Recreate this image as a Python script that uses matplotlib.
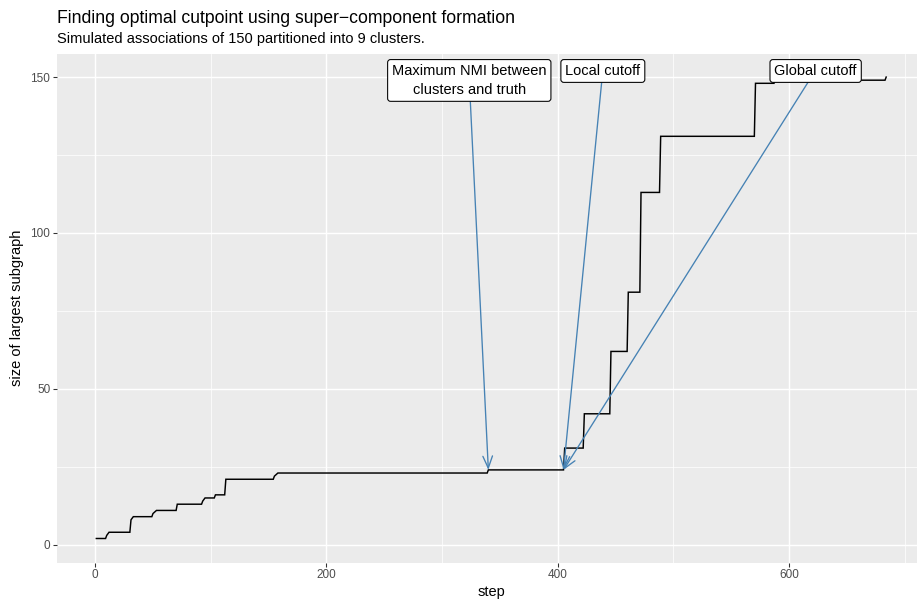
import matplotlib
matplotlib.use("Agg")
import matplotlib.pyplot as plt
from matplotlib.ticker import FixedLocator

plt.rcParams['font.family'] = ['Liberation Sans', 'DejaVu Sans']

# ---- data ----
step = [1, 9, 10, 12, 30, 31, 33, 49, 50, 53, 70, 71, 92, 93, 95, 103, 104,
        112, 113, 154, 155, 158, 339, 340, 405, 406, 422, 423, 445, 446, 460,
        461, 471, 472, 488, 489, 570, 571, 587, 588, 683, 684]
size = [2, 2, 3, 4, 4, 8, 9, 9, 10, 11, 11, 13, 13, 14, 15, 15, 16,
        16, 21, 21, 22, 23, 23, 24, 24, 31, 31, 42, 42, 62, 62,
        81, 81, 113, 113, 131, 131, 148, 148, 149, 149, 150]

label_text = ["Maximum NMI between\nclusters and truth", "Local cutoff", "Global cutoff"]
label_x = [323.5, 439, 623]
label_top = [155.4, 155.4, 155.4]
arrow_start_y = [149, 152.2, 152.2]
arrow_end_x = [340, 405, 405]
arrow_end_y = [24, 24, 24]

x_ticks = [0, 200, 400, 600]
y_ticks = [0, 50, 100, 150]
x_minor = [100, 300, 500, 700]
y_minor = [25, 75, 125]

title = "Finding optimal cutpoint using super\u2212component formation"
subtitle = "Simulated associations of 150 partitioned into 9 clusters."

# ---- figure ----
W, H, DPI = 917, 602, 96
fig = plt.figure(figsize=(W / DPI, H / DPI), dpi=DPI)
left, right, top, bottom = 57, 925.5, 54, 562.5
ax = fig.add_axes([left / W, 1 - bottom / H, (right - left) / W, (bottom - top) / H])

ax.set_facecolor('#EBEBEB')
for s in ax.spines.values():
    s.set_visible(False)

ax.set_xlim(-33, 718)
ax.set_ylim(-5.7, 157.4)

ax.xaxis.set_major_locator(FixedLocator(x_ticks))
ax.yaxis.set_major_locator(FixedLocator(y_ticks))
ax.xaxis.set_minor_locator(FixedLocator(x_minor))
ax.yaxis.set_minor_locator(FixedLocator(y_minor))
ax.grid(which='major', color='white', linewidth=1.1)
ax.grid(which='minor', color='white', linewidth=0.55)
ax.set_axisbelow(True)
ax.tick_params(which='major', length=2.75, width=0.8, color='#333333',
               labelcolor='#4D4D4D', labelsize=8.8, pad=2.2)
ax.tick_params(which='minor', length=0)

ax.plot(step, size, color='black', linewidth=1.1, zorder=3,
        solid_joinstyle='miter')

for i in range(len(label_text)):
    ax.annotate('', xy=(arrow_end_x[i], arrow_end_y[i]),
                xytext=(label_x[i], arrow_start_y[i]),
                arrowprops=dict(arrowstyle='->,head_length=0.75,head_width=0.3',
                                color='#4682B4', lw=1.0, shrinkA=0, shrinkB=0,
                                mutation_scale=12),
                zorder=4)
    ax.text(label_x[i], label_top[i] - 1.2, label_text[i], ha='center', va='top',
            fontsize=11, color='black', linespacing=1.45, zorder=5,
            bbox=dict(boxstyle='round,pad=0.3,rounding_size=0.2',
                      facecolor='white', edgecolor='black', linewidth=0.8))

ax.set_xlabel('step', fontsize=11, labelpad=3)
ax.set_ylabel('size of largest subgraph', fontsize=11, labelpad=5)

fig.text(57 / W, 1 - 23 / H, title, fontsize=13.2, ha='left', va='baseline')
fig.text(57 / W, 1 - 43.5 / H, subtitle, fontsize=11, ha='left', va='baseline')

fig.savefig('out.png', dpi=DPI)
